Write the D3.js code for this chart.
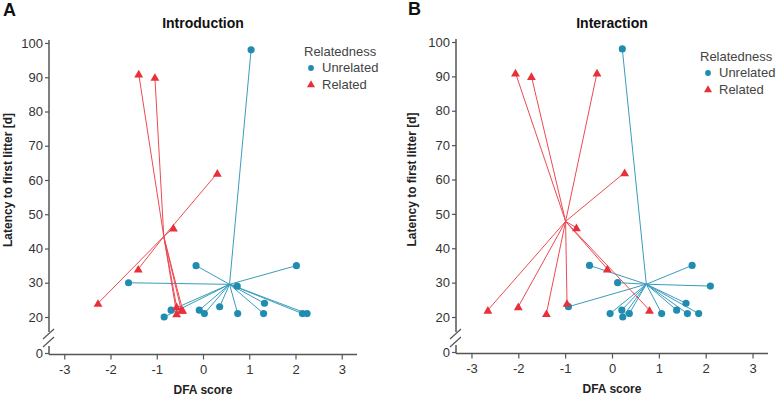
<!DOCTYPE html>
<html>
<head>
<meta charset="utf-8">
<script src="https://cdn.jsdelivr.net/npm/d3@7"></script>
<style>
  body { margin: 0; background: #fff; }
  text { font-family: "Liberation Sans", Arial, sans-serif; }
</style>
</head>
<body>
<div id="chart"></div>
<script>
// Panel A - Introduction
const introUnrelatedDFA = [-1.61, -0.15, -0.84, -0.69, -0.08, 0.03, 0.36, 0.74, 0.75, 1.31, 1.33, 2.02, 2.15, 2.25, 1.04];
const introUnrelatedLat = [30, 35, 20, 22, 22, 21, 23, 29, 21, 21, 24, 35, 21, 21, 98];
const introRelatedDFA = [-1.39, -1.04, 0.31, -0.64, -1.40, -2.27, -0.57, -0.44, -0.47, -0.57];
const introRelatedLat = [91, 90, 62, 46, 34, 24, 23, 22, 22, 21];

// Panel B - Interaction
const interUnrelatedDFA = [0.22, -0.48, 0.12, -0.93, -0.04, 0.21, 0.23, 0.37, 1.06, 1.38, 1.58, 1.61, 1.85, 1.71, 2.10];
const interUnrelatedLat = [98, 35, 30, 23, 21, 22, 20, 21, 21, 22, 24, 21, 21, 35, 29];
const interRelatedDFA = [-2.06, -1.72, -0.32, 0.27, -0.76, -0.10, -2.65, -2.00, -1.40, -0.96, 0.80];
const interRelatedLat = [91, 90, 91, 62, 46, 34, 22, 23, 21, 24, 22];

const xTicks = [-3, -2, -1, 0, 1, 2, 3];
const yTicks = [0, 20, 30, 40, 50, 60, 70, 80, 90, 100];
const groups = ["Unrelated", "Related"];

const color = d3.scaleOrdinal().domain(groups).range(["#1f8cb0", "#e8303a"]);
const lineColor = d3.scaleOrdinal().domain(groups).range(["#3a9cbc", "#ee4a52"]);

const svg = d3.select("#chart").append("svg")
    .attr("width", 778)
    .attr("height", 396);

const triangle = d3.symbol().type(d3.symbolTriangle).size(34);

function drawPanel(cfg) {
    const g = svg.append("g");
    const x = d3.scaleLinear().domain([-3.33, 3.33]).range([cfg.left, cfg.right]);
    const y = d3.scaleLinear().domain([0, 20, 100]).range([cfg.y0, cfg.y20, cfg.y100]);
    const axisY = cfg.y0 + 1.5;

    // panel letter + title
    g.append("text").attr("x", cfg.letterX).attr("y", cfg.letterY)
        .attr("font-size", 18).attr("font-weight", "bold").attr("fill", "#111").text(cfg.letter);
    g.append("text").attr("x", x(0)).attr("y", cfg.titleY)
        .attr("text-anchor", "middle").attr("font-size", 14).attr("font-weight", "bold")
        .attr("fill", "#111").text(cfg.title);

    // x axis
    g.append("line").attr("x1", cfg.left).attr("x2", cfg.right)
        .attr("y1", axisY).attr("y2", axisY).attr("stroke", "#555").attr("stroke-width", 1.5);
    const xa = g.append("g").attr("transform", `translate(0,${axisY})`)
        .call(d3.axisBottom(x).tickValues(xTicks).tickFormat(d => String(d))
            .tickSize(5).tickSizeOuter(0).tickPadding(5));
    xa.select(".domain").remove();
    xa.selectAll(".tick line").attr("stroke", "#555").attr("stroke-width", 1.2);
    xa.selectAll(".tick text").attr("font-size", 13).attr("fill", "#333")
        .attr("font-family", "Liberation Sans, Arial, sans-serif");

    // y axis, with break between 0 and 20
    const breakTop = cfg.y20 + 15, breakBot = cfg.y0 - 7;
    g.append("line").attr("x1", cfg.left).attr("x2", cfg.left)
        .attr("y1", cfg.y100 - 3).attr("y2", breakTop).attr("stroke", "#555").attr("stroke-width", 1.5);
    g.append("line").attr("x1", cfg.left).attr("x2", cfg.left)
        .attr("y1", breakBot).attr("y2", axisY).attr("stroke", "#555").attr("stroke-width", 1.5);
    [0, 8].forEach(off => {
        g.append("line")
            .attr("x1", cfg.left - 6).attr("y1", breakTop + 7 + off)
            .attr("x2", cfg.left + 5).attr("y2", breakTop - 3 + off)
            .attr("stroke", "#555").attr("stroke-width", 1.2);
    });
    const ya = g.append("g").attr("transform", `translate(${cfg.left},0)`)
        .call(d3.axisLeft(y).tickValues(yTicks).tickSize(4).tickSizeOuter(0).tickPadding(2));
    ya.select(".domain").remove();
    ya.selectAll(".tick line").attr("stroke", "#555").attr("stroke-width", 1.2);
    ya.selectAll(".tick text").attr("font-size", 13).attr("fill", "#333")
        .attr("font-family", "Liberation Sans, Arial, sans-serif");

    // axis labels
    g.append("text").attr("x", x(0)).attr("y", cfg.xLabelY)
        .attr("text-anchor", "middle").attr("font-size", 12).attr("font-weight", "bold")
        .attr("fill", "#222").text("DFA score");
    g.append("text")
        .attr("transform", `translate(${cfg.yLabelX},${y(60)}) rotate(-90)`)
        .attr("text-anchor", "middle").attr("font-size", 12).attr("font-weight", "bold")
        .attr("fill", "#222").text("Latency to first litter [d]");

    // points joined to group centroids
    cfg.series.forEach(s => {
        const pts = s.dfa.map((d, i) => ({ dfa: d, lat: s.lat[i] }));
        const cx = d3.mean(pts, d => d.dfa), cy = d3.mean(pts, d => d.lat);
        g.append("g").selectAll("line").data(pts).join("line")
            .attr("x1", x(cx)).attr("y1", y(cy))
            .attr("x2", d => x(d.dfa)).attr("y2", d => y(d.lat))
            .attr("stroke", lineColor(s.group)).attr("stroke-width", 1);
    });
    cfg.series.forEach(s => {
        const pts = s.dfa.map((d, i) => ({ dfa: d, lat: s.lat[i] }));
        const m = g.append("g").selectAll("path").data(pts).join("path")
            .attr("fill", color(s.group));
        if (s.group === "Unrelated") {
            m.attr("d", d3.symbol().type(d3.symbolCircle).size(40))
             .attr("transform", d => `translate(${x(d.dfa)},${y(d.lat)})`);
        } else {
            m.attr("d", triangle)
             .attr("transform", d => `translate(${x(d.dfa)},${y(d.lat) + 1})`);
        }
    });

    // legend
    const lg = g.append("g").attr("transform", `translate(${cfg.legX},${cfg.legY})`);
    lg.append("text").attr("x", 0).attr("y", 0).attr("font-size", 13).attr("fill", "#444").text("Relatedness");
    groups.forEach((grp, i) => {
        const yy = 16 + i * 17;
        lg.append("path")
            .attr("d", d3.symbol().type(grp === "Unrelated" ? d3.symbolCircle : d3.symbolTriangle).size(grp === "Unrelated" ? 26 : 28))
            .attr("transform", `translate(${cfg.legMarkX},${yy - 4})`)
            .attr("fill", color(grp));
        lg.append("text").attr("x", cfg.legTextX).attr("y", yy).attr("font-size", 13)
            .attr("fill", "#444").text(grp);
    });
}

drawPanel({
    letter: "A", letterX: 3, letterY: 16, title: "Introduction", titleY: 28,
    left: 49, right: 357, y0: 353, y20: 317, y100: 43,
    xLabelY: 394, yLabelX: 12,
    legX: 304, legY: 56, legMarkX: 7, legTextX: 18,
    series: [
        { group: "Unrelated", dfa: introUnrelatedDFA, lat: introUnrelatedLat },
        { group: "Related", dfa: introRelatedDFA, lat: introRelatedLat }
    ]
});

drawPanel({
    letter: "B", letterX: 408, letterY: 15, title: "Interaction", titleY: 28,
    left: 456, right: 768, y0: 352, y20: 317, y100: 42,
    xLabelY: 393, yLabelX: 416,
    legX: 700, legY: 61, legMarkX: 8, legTextX: 19,
    series: [
        { group: "Unrelated", dfa: interUnrelatedDFA, lat: interUnrelatedLat },
        { group: "Related", dfa: interRelatedDFA, lat: interRelatedLat }
    ]
});
</script>
</body>
</html>
